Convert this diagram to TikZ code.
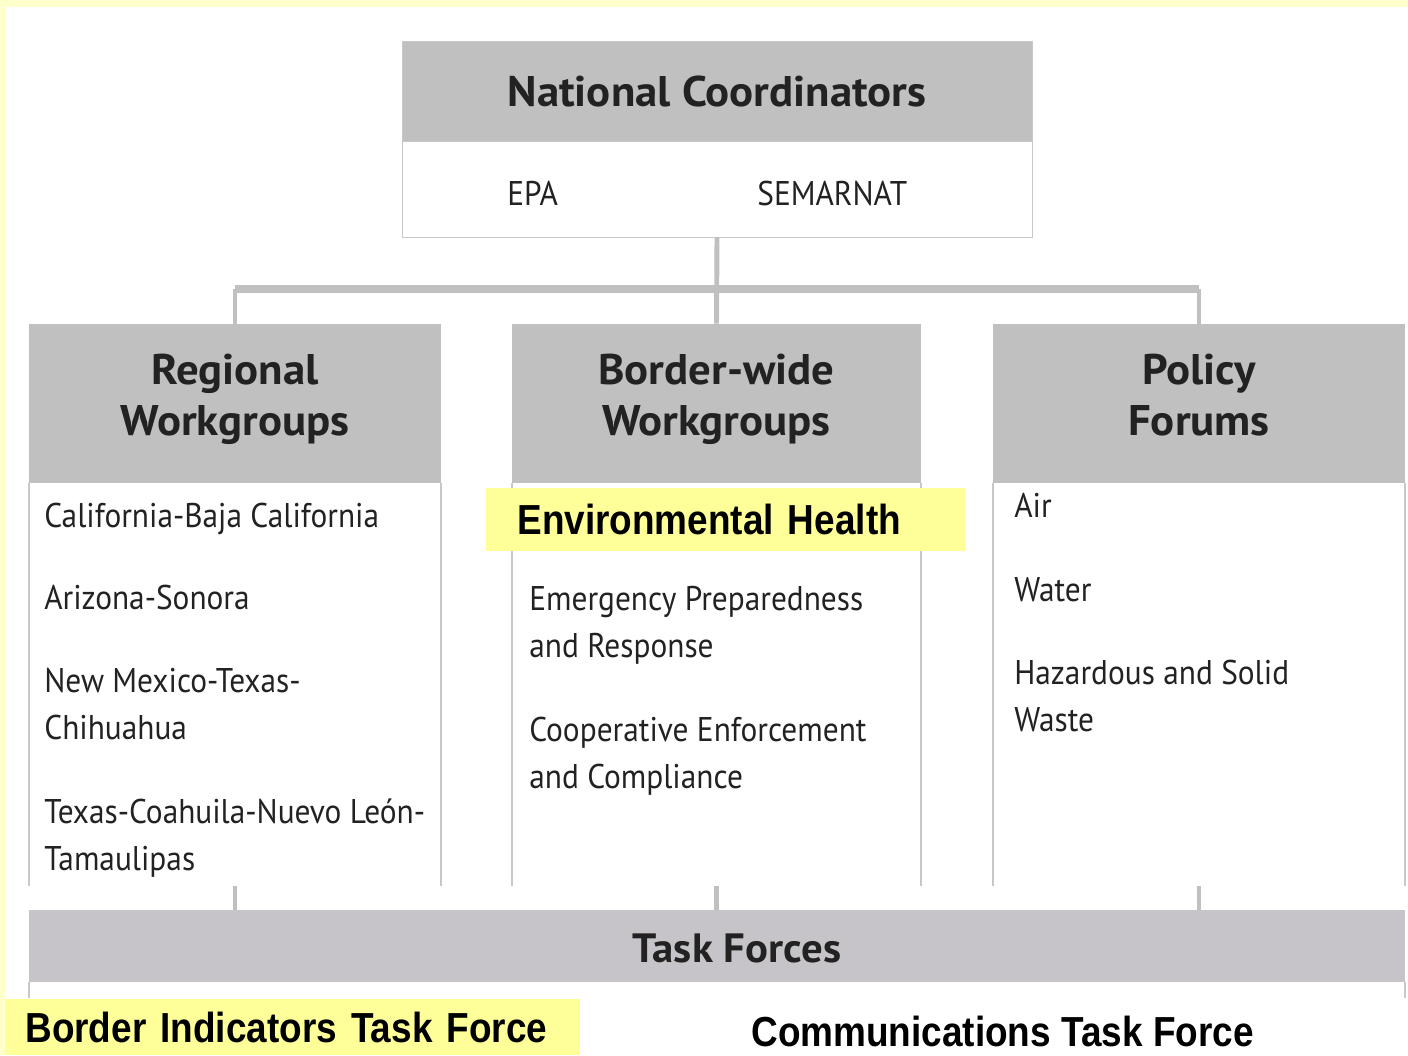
\documentclass[tikz,border=0pt]{standalone}
\usepackage{fontspec}
\setmainfont[FakeStretch=0.915]{PT Sans}
\newfontfamily\headfont[FakeStretch=1.045]{PT Sans}
\newfontfamily\markfont[FakeStretch=0.88]{Liberation Sans}
\definecolor{boxgray}{HTML}{C0C0C0}
\definecolor{bargray}{HTML}{C6C4C8}
\definecolor{rulegray}{HTML}{C8C8C8}
\definecolor{pageyellow}{HTML}{FFFFCC}
\definecolor{markyellow}{HTML}{FFFF99}
\definecolor{inkgray}{HTML}{222222}

\begin{document}
\begin{tikzpicture}[x=0.02cm,y=-0.02cm,
  head/.style={fill=boxgray,inner sep=0pt,text=inkgray,align=center,
    font=\headfont\bfseries\fontsize{24.4}{29}\selectfont},
  colhead/.style={head,minimum height=3.18cm,text depth=10pt},
  body/.style={inner sep=0pt},
  item/.style={anchor=base west,inner sep=0pt,text=inkgray,align=left,
    font=\fontsize{19.5}{26.2}\selectfont},
  link/.style={draw=boxgray,line width=2.8pt},
  side/.style={draw=rulegray,line width=1pt},
  hilite/.style={fill=markyellow,inner ysep=0pt,align=left,anchor=north west,
    font=\markfont\bfseries\fontsize{23.9}{28}\selectfont}]
\useasboundingbox (0,0) rectangle (1408,1055);
\fill[pageyellow] (0,0) rectangle (1408,1055);
\fill[white] (5,7) rectangle (1408,1055);

\node[head,draw=rulegray,minimum width=12.6cm,minimum height=2cm] (nc) at (717,91) {National Coordinators};
\node[body,draw=rulegray,minimum width=12.6cm,minimum height=1.92cm] (ncb) at (717,189) {};
\node[item] (epa) at (507,205) {EPA};
\node[item] (sem) at (757,205) {SEMARNAT};

\node[colhead,minimum width=8.24cm] (rw) at (235,403.5) {Regional\\Workgroups};
\node[colhead,minimum width=8.18cm] (bw) at (716.5,403.5) {Border-wide\\Workgroups};
\node[colhead,minimum width=8.24cm] (pf) at (1199,403.5) {Policy\\Forums};
\node[body,minimum width=8.24cm,minimum height=8.06cm] (rwb) at (235,684.5) {};
\node[body,minimum width=8.18cm,minimum height=8.06cm] (bwb) at (716.5,684.5) {};
\node[body,minimum width=8.24cm,minimum height=8.06cm] (pfb) at (1199,684.5) {};
\foreach \c in {rwb,bwb,pfb}
  \draw[side] (\c.north west) -- (\c.south west) (\c.north east) -- (\c.south east);

\node[fill=bargray,inner sep=0pt,minimum width=27.52cm,minimum height=1.44cm] (tf) at (717,946) {};
\node[anchor=base,inner sep=0pt,text=inkgray,font=\headfont\bfseries\fontsize{23.3}{26}\selectfont] (tft) at (737,962) {Task Forces};
\draw[side] (tf.south west) -- ++(0,16) (tf.south east) -- ++(0,16);

\coordinate (bar) at (717,289);
\draw[link] (ncb.south) -- (bw.north);
\draw[link,line width=5pt] (rw.north |- bar) -- (pf.north |- bar);
\draw[link] (rw.north |- bar) -- (rw.north);
\draw[link] (pf.north |- bar) -- (pf.north);
\foreach \c in {rwb,bwb,pfb}
  \draw[link] (\c.south) -- (\c.south |- tf.north);

\node[item] (cb) at (44,527) {California-Baja California};
\node[item] (as) at (44,609) {Arizona-Sonora};
\node[item] (nm) at (44,739) {New Mexico-Texas-\\Chihuahua};
\node[item] (tc) at (44,870) {Texas-Coahuila-Nuevo León-\\Tamaulipas};
\node[hilite,minimum height=1.26cm,text width=8.34cm,inner xsep=0.62cm] (eh) at (486,488) {Environmental Health};
\node[item] (ep) at (529,657) {Emergency Preparedness\\and Response};
\node[item] (ce) at (529,788) {Cooperative Enforcement\\and Compliance};
\node[item] (air) at (1014,517) {Air};
\node[item] (wat) at (1014,601) {Water};
\node[item] (hz) at (1014,731) {Hazardous and Solid\\Waste};

\node[hilite,minimum height=1.12cm,text width=10.7cm,inner xsep=0.4cm] (bi) at (5,999) {Border Indicators Task Force};
\node[anchor=base west,inner sep=0pt,font=\markfont\bfseries\fontsize{23.9}{28}\selectfont] (ct) at (751,1046) {Communications Task Force};
\end{tikzpicture}
\end{document}
